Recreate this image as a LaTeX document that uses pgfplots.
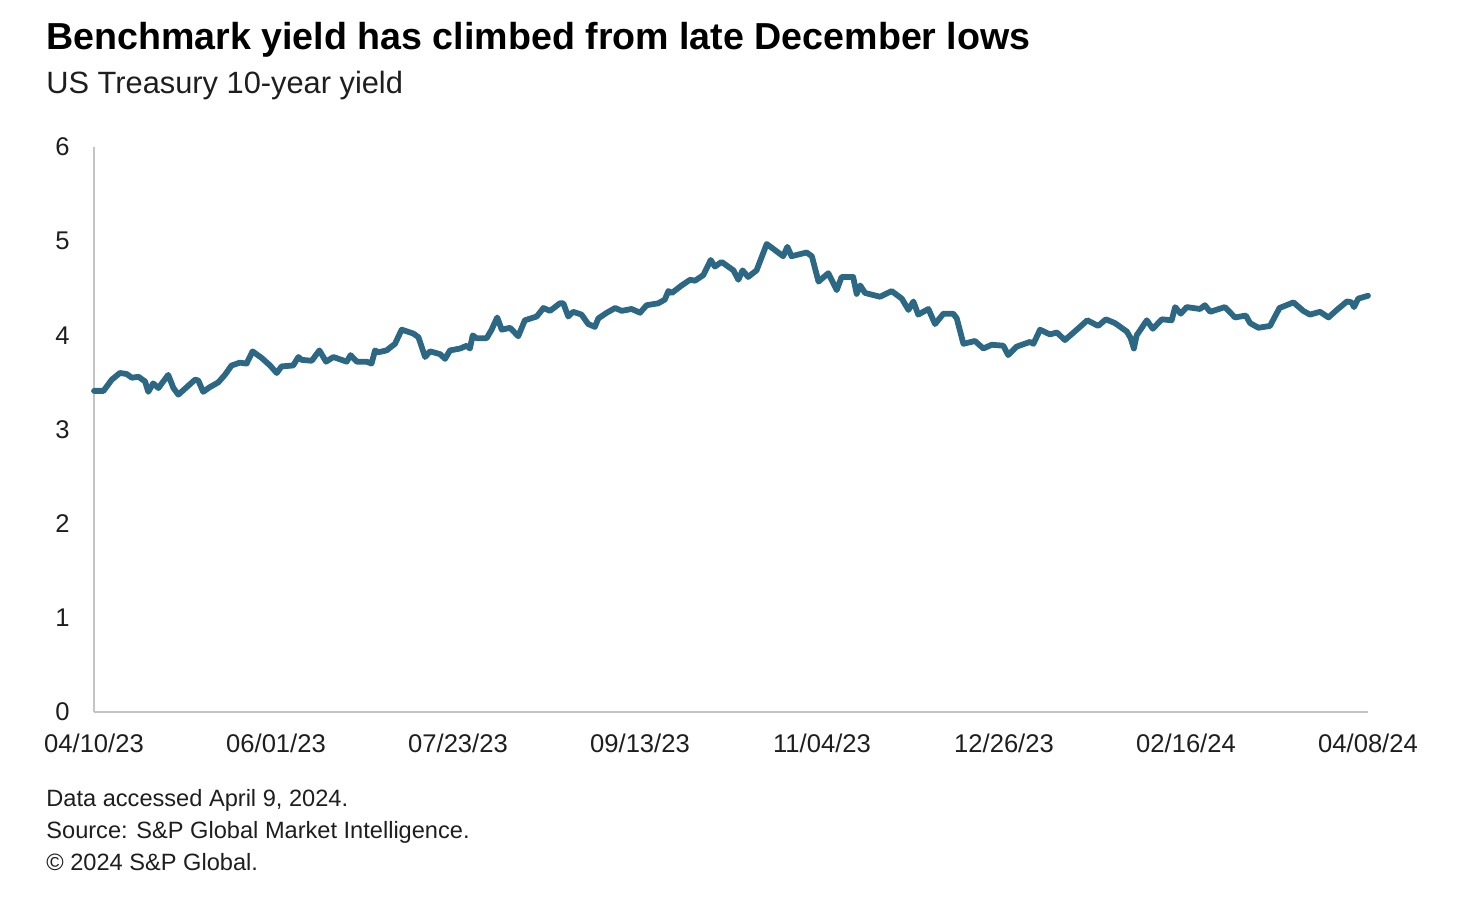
\documentclass[border=0pt]{standalone}
\usepackage{pgfplots}
\pgfplotsset{compat=1.18}
\usepackage{fontspec}
\setmainfont{Liberation Sans}

\definecolor{yieldline}{RGB}{44,104,132}
\definecolor{axisgray}{RGB}{196,196,196}
\definecolor{textdark}{RGB}{30,30,30}

\begin{document}
\begin{tikzpicture}
  % page frame, 1 px of the reference = 0.5pt
  \path (0,0) rectangle (733pt,453pt);

  \node[anchor=base west, inner sep=0pt, text=black, font=\bfseries\fontsize{18.8}{22}\selectfont]
    at (23pt,428pt) {Benchmark yield has climbed from late December lows};
  \node[anchor=base west, inner sep=0pt, text=textdark, font=\fontsize{15.4}{18}\selectfont]
    at (23pt,406pt) {US Treasury 10-year yield};

  \begin{axis}[
    at={(47pt,97pt)}, anchor=south west,
    scale only axis,
    width=637pt, height=282.5pt,
    xmin=0, xmax=364,
    ymin=0, ymax=6,
    axis lines=left,
    axis line style={axisgray, line width=0.9pt, -},
    major tick length=0pt,
    xtick={0,52,...,364},
    xticklabels={04/10/23,06/01/23,07/23/23,09/13/23,11/04/23,12/26/23,02/16/24,04/08/24},
    ytick={0,1,...,6},
    tick label style={font=\fontsize{12.8}{14}\selectfont, text=textdark},
    /pgf/number format/assume math mode=true,
    xticklabel style={anchor=north, inner sep=0pt, yshift=-11pt},
    yticklabel style={anchor=east, inner sep=0pt, xshift=-12pt},
    clip=false,
  ]
    \addplot[yieldline, line width=2.9pt, line join=round, line cap=round] coordinates {
      (0,3.41) (2.7,3.41) (5.1,3.53) (7.4,3.60) (9.3,3.59) (10.8,3.55) (12.7,3.56)
      (14.6,3.51) (15.5,3.40) (16.9,3.49) (18.4,3.44) (21.2,3.58) (22.7,3.44)
      (24.1,3.37) (26.5,3.45) (28.9,3.53) (29.8,3.52) (31.2,3.40) (33.1,3.45)
      (35.5,3.50) (37.4,3.58) (39.3,3.68) (41.7,3.71) (43.6,3.70) (45.3,3.83)
      (47.9,3.76) (50.3,3.68) (52.2,3.60) (53.6,3.67) (56.9,3.68) (58.4,3.77)
      (59.3,3.74) (62.2,3.73) (64.4,3.84) (66.3,3.72) (68.4,3.77) (72.2,3.72)
      (73.3,3.79) (75.1,3.72) (77.9,3.72) (79.3,3.70) (80.3,3.84) (81.2,3.82)
      (83.6,3.84) (86.0,3.91) (87.9,4.06) (91.2,4.02) (92.7,3.98) (94.6,3.77)
      (96.0,3.83) (98.9,3.80) (100.3,3.75) (101.7,3.84) (104.6,3.86) (106.5,3.89)
      (107.4,3.86) (108.2,4.00) (109.3,3.97) (112.2,3.97) (113.6,4.06) (115.2,4.19)
      (116.5,4.06) (118.9,4.08) (121.2,3.99) (123.1,4.16) (126.5,4.20) (128.4,4.29)
      (130.3,4.26) (133.1,4.34) (134.1,4.34) (135.5,4.20) (136.9,4.25) (139.3,4.22)
      (141.2,4.12) (143.1,4.09) (144.1,4.18) (146.5,4.24) (148.9,4.29) (150.8,4.26)
      (153.6,4.28) (156.0,4.24) (157.9,4.32) (161.2,4.34) (163.1,4.38) (164.1,4.47)
      (165.1,4.45) (167.9,4.53) (170.3,4.59) (171.7,4.58) (174.1,4.64) (176.2,4.80)
      (177.4,4.73) (179.3,4.78) (182.7,4.69) (184.1,4.59) (185.3,4.69) (186.9,4.62)
      (189.3,4.69) (192.2,4.97) (196.9,4.84) (198.1,4.94) (199.3,4.84) (203.6,4.88)
      (205.1,4.84) (207.0,4.57) (209.8,4.66) (212.2,4.48) (213.6,4.62) (216.9,4.62)
      (217.9,4.44) (218.9,4.53) (220.3,4.45) (224.6,4.41) (227.9,4.47) (230.8,4.39)
      (232.7,4.27) (234.1,4.36) (235.5,4.22) (238.4,4.28) (240.3,4.12) (242.7,4.23)
      (245.5,4.23) (246.5,4.18) (248.4,3.91) (251.7,3.94) (254.1,3.86) (256.5,3.90)
      (259.8,3.89) (261.2,3.79) (263.6,3.88) (267.4,3.93) (268.4,3.91) (270.3,4.06)
      (273.1,4.01) (275.1,4.03) (277.4,3.95) (280.8,4.06) (283.8,4.16) (286.9,4.10)
      (289.1,4.17) (291.7,4.13) (295.1,4.04) (296.2,3.97) (297.1,3.86) (297.9,4.00)
      (300.8,4.16) (302.5,4.07) (305.1,4.17) (307.9,4.16) (308.9,4.30) (310.5,4.23)
      (312.2,4.30) (316.0,4.28) (317.4,4.32) (318.9,4.25) (323.1,4.30) (326.0,4.19)
      (329.1,4.21) (330.3,4.13) (332.7,4.08) (336.0,4.10) (338.7,4.29) (342.7,4.35)
      (345.5,4.26) (347.4,4.22) (350.3,4.25) (352.7,4.19) (355.1,4.27) (358.0,4.36)
      (359.3,4.35) (360.0,4.30) (361.2,4.39) (364.0,4.42)
    };
  \end{axis}

  \node[anchor=base west, inner sep=0pt, text=textdark, font=\fontsize{11.8}{14}\selectfont]
    at (23pt,50pt) {Data accessed April 9, 2024.};
  \node[anchor=base west, inner sep=0pt, text=textdark, font=\fontsize{11.8}{14}\selectfont]
    at (23pt,34pt) {Source: S\&P Global Market Intelligence.};
  \node[anchor=base west, inner sep=0pt, text=textdark, font=\fontsize{11.8}{14}\selectfont]
    at (23pt,18pt) {© 2024 S\&P Global.};
\end{tikzpicture}
\end{document}
